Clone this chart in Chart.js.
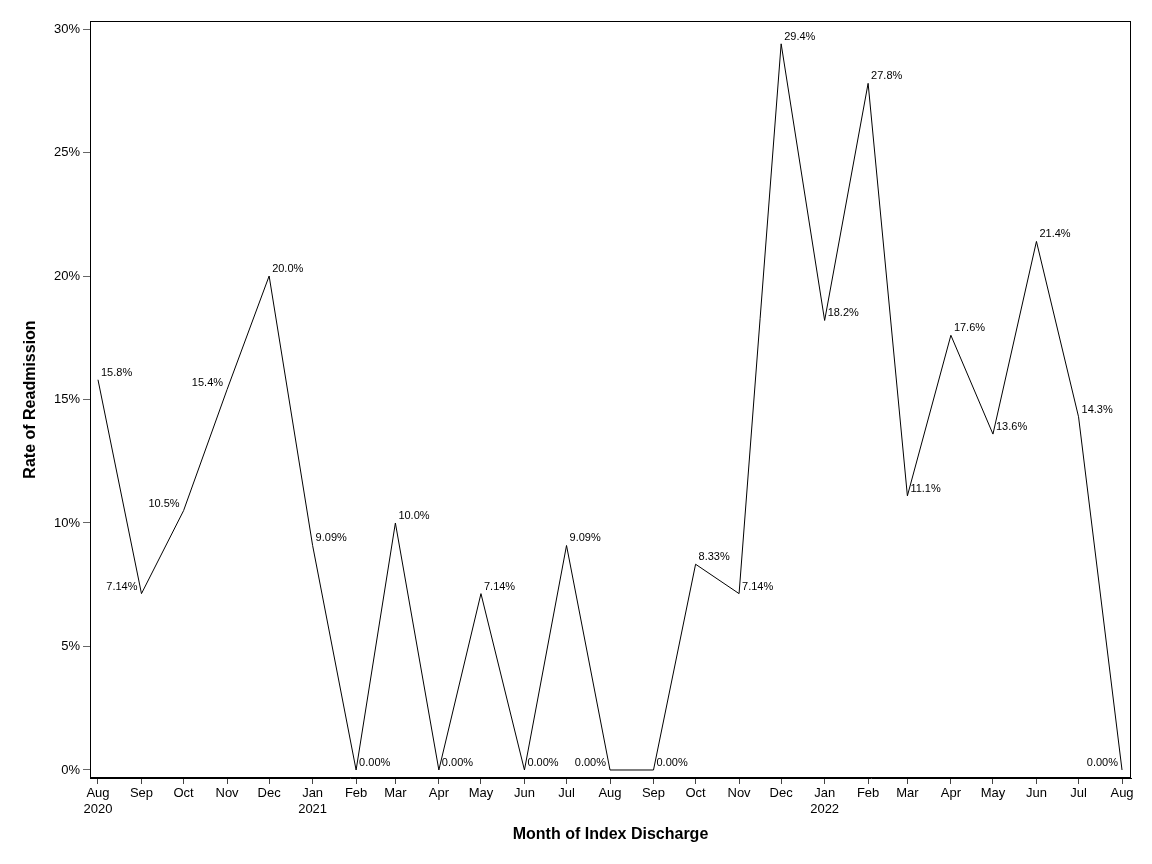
<!DOCTYPE html>
<html>
<head>
<meta charset="utf-8">
<script src="https://cdn.jsdelivr.net/npm/chart.js@4/dist/chart.umd.min.js"></script>
<style>
  html, body { margin: 0; padding: 0; background: #fff; }
  #wrap { width: 1152px; height: 864px; }
</style>
</head>
<body>
<div id="wrap"><canvas id="c" width="1152" height="864"></canvas></div>
<script>
// ---- data ----
const months = ['2020-08','2020-09','2020-10','2020-11','2020-12','2021-01','2021-02','2021-03','2021-04','2021-05','2021-06','2021-07','2021-08','2021-09','2021-10','2021-11','2021-12','2022-01','2022-02','2022-03','2022-04','2022-05','2022-06','2022-07','2022-08'];
const rates = [15.8, 7.14, 10.5, 15.4, 20.0, 9.09, 0.00, 10.0, 0.00, 7.14, 0.00, 9.09, 0.00, 0.00, 8.33, 7.14, 29.4, 18.2, 27.8, 11.1, 17.6, 13.6, 21.4, 14.3, 0.00];
const rateLabels = ['15.8%','7.14%','10.5%','15.4%','20.0%','9.09%','0.00%','10.0%','0.00%','7.14%','0.00%','9.09%','0.00%','0.00%','8.33%','7.14%','29.4%','18.2%','27.8%','11.1%','17.6%','13.6%','21.4%','14.3%','0.00%'];
const monthNames = ['Jan','Feb','Mar','Apr','May','Jun','Jul','Aug','Sep','Oct','Nov','Dec'];
const yTicks = [0, 5, 10, 15, 20, 25, 30];

// ---- derived ----
const DAY = 86400000;
function toDate(s) { const [y, m] = s.split('-').map(Number); return {y, m: m - 1, t: Date.UTC(y, m - 1, 1)}; }
const parsed = months.map(toDate);
const t0 = parsed[0].t;
const xs = parsed.map(p => (p.t - t0) / DAY);
const points = xs.map((x, i) => ({x, y: rates[i]}));
const leftLabels = new Set([1, 2, 3, 12, 24]);

const frame = {
  id: 'frame',
  afterDraw(chart) {
    const {ctx, chartArea: a} = chart;
    ctx.save();
    ctx.strokeStyle = '#000';
    ctx.lineWidth = 1;
    ctx.strokeRect(Math.round(a.left) + 0.5, Math.round(a.top) + 0.5, Math.round(a.right - a.left) - 1, Math.round(a.bottom - a.top) - 1);
    ctx.restore();
  }
};

const labelsPlugin = {
  id: 'ptlabels',
  afterDatasetsDraw(chart) {
    const {ctx} = chart;
    const meta = chart.getDatasetMeta(0);
    ctx.save();
    ctx.font = '11px "Liberation Sans", Arial, sans-serif';
    ctx.fillStyle = '#000';
    ctx.textBaseline = 'alphabetic';
    meta.data.forEach((el, i) => {
      const left = leftLabels.has(i);
      ctx.textAlign = left ? 'right' : 'left';
      ctx.fillText(rateLabels[i], el.x + (left ? -4 : 3), el.y - 4);
    });
    ctx.restore();
  }
};

new Chart(document.getElementById('c'), {
  type: 'line',
  data: {
    datasets: [{
      data: points,
      borderColor: '#000',
      borderWidth: 1,
      pointRadius: 0,
      tension: 0,
      fill: false
    }]
  },
  plugins: [frame, labelsPlugin],
  options: {
    responsive: false,
    devicePixelRatio: 1,
    animation: false,
    layout: { padding: { left: 0, top: 21, right: 21, bottom: 0 } },
    plugins: { legend: { display: false }, tooltip: { enabled: false } },
    scales: {
      x: {
        type: 'linear',
        min: xs[0] - 5.7,
        max: xs[xs.length - 1] + 6.4,
        afterBuildTicks(scale) { scale.ticks = xs.map(v => ({value: v})); },
        afterFit(scale) { scale.height = 86; },
        grid: { display: true, drawOnChartArea: false, drawTicks: true, tickLength: 6, color: '#444', tickColor: '#444' },
        border: { display: true, color: '#000' },
        ticks: {
          autoSkip: false,
          maxRotation: 0,
          padding: 2,
          color: '#000',
          font: { family: '"Liberation Sans", Arial, sans-serif', size: 13 },
          callback(v, i) {
            const p = parsed[i];
            if (!p) return '';
            const mn = monthNames[p.m];
            return (i === 0 || p.m === 0) ? [mn, String(p.y)] : mn;
          }
        },
        title: {
          display: true,
          text: 'Month of Index Discharge',
          color: '#000',
          font: { family: '"Liberation Sans", Arial, sans-serif', size: 16, weight: 'bold' },
          padding: { top: 0, bottom: 20 }
        }
      },
      y: {
        min: -0.324,
        max: 30.324,
        afterBuildTicks(scale) { scale.ticks = yTicks.map(v => ({value: v})); },
        afterFit(scale) { scale.width = 90; },
        grid: { display: true, drawOnChartArea: false, drawTicks: true, tickLength: 7, color: '#666', tickColor: '#666' },
        border: { display: true, color: '#000' },
        ticks: {
          padding: 3,
          color: '#000',
          font: { family: '"Liberation Sans", Arial, sans-serif', size: 13 },
          callback(v) { return v + '%'; }
        },
        title: {
          display: true,
          text: 'Rate of Readmission',
          color: '#000',
          font: { family: '"Liberation Sans", Arial, sans-serif', size: 16, weight: 'bold' },
          padding: { top: 21, bottom: 0 }
        }
      }
    }
  }
});
</script>
</body>
</html>
